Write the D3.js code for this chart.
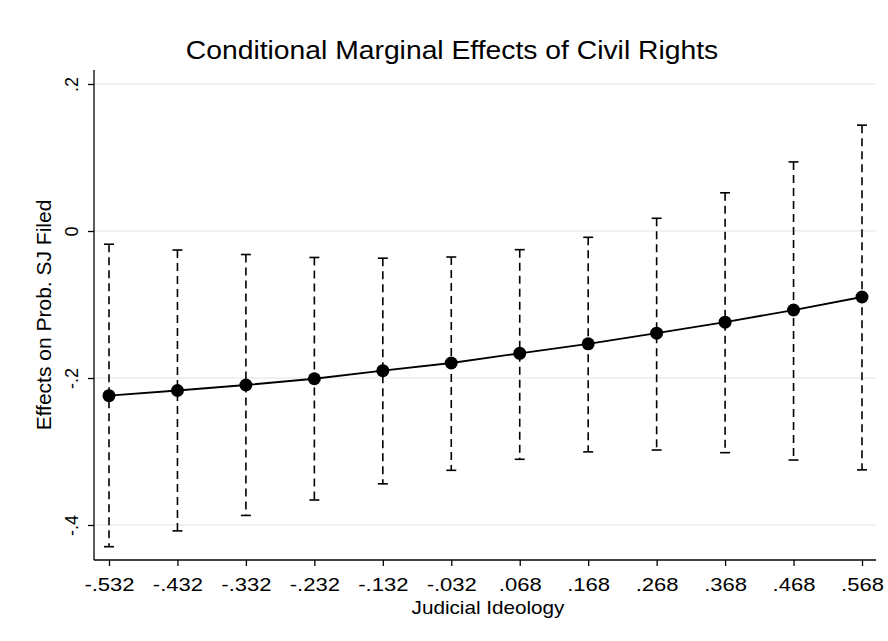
<!DOCTYPE html>
<html>
<head>
<meta charset="utf-8">
<script src="https://cdn.jsdelivr.net/npm/d3@7"></script>
<style>
  body { margin: 0; background: #fff; }
  text { font-family: "Liberation Sans", Arial, Helvetica, sans-serif; fill: #000; }
</style>
</head>
<body>
<svg id="chart" width="888" height="641"></svg>
<script>
const xValues = [-0.532, -0.432, -0.332, -0.232, -0.132, -0.032, 0.068, 0.168, 0.268, 0.368, 0.468, 0.568];
const xTickLabels = ["-.532", "-.432", "-.332", "-.232", "-.132", "-.032", ".068", ".168", ".268", ".368", ".468", ".568"];
const effects = [-0.224, -0.217, -0.2095, -0.201, -0.190, -0.1796, -0.1664, -0.1535, -0.139, -0.124, -0.1075, -0.0898];
const upperCI = [-0.018, -0.0259, -0.032, -0.036, -0.037, -0.0354, -0.0254, -0.0086, 0.0173, 0.052, 0.094, 0.144];
const lowerCI = [-0.4295, -0.408, -0.387, -0.366, -0.344, -0.3256, -0.3106, -0.3005, -0.298, -0.3016, -0.3116, -0.325];
const yTicks = [0.2, 0, -0.2, -0.4];
const yTickLabels = [".2", "0", "-.2", "-.4"];

const svg = d3.select("#chart");
const plotLeft = 94, plotRight = 876, plotTop = 70, plotBottom = 560;

const x = d3.scaleLinear().domain([-0.532, 0.568]).range([109, 862]);
const y = d3.scaleLinear().domain([0.2, -0.4]).range([84, 525]);

// gridlines
svg.append("g").selectAll("line").data(yTicks).join("line")
  .attr("x1", plotLeft).attr("x2", plotRight)
  .attr("y1", d => y(d)).attr("y2", d => y(d))
  .attr("stroke", "#e8eef3").attr("stroke-width", 1.5);

// axes
const xAxis = d3.axisBottom(x).tickValues(xValues)
  .tickFormat((d, i) => xTickLabels[i]).tickSize(6).tickSizeOuter(0);
const gx = svg.append("g").attr("transform", `translate(0,${plotBottom})`).call(xAxis);
gx.select(".domain").attr("d", `M${plotLeft},0H${plotRight}`).attr("stroke", "#000").attr("stroke-width", 1.3);
gx.selectAll(".tick line").attr("stroke", "#000").attr("stroke-width", 1.3);
gx.selectAll(".tick text").attr("font-size", 19).attr("dy", 0).attr("y", 0)
  .attr("transform", "translate(0,31) scale(1.16,1)")
  .attr("font-family", "Liberation Sans, Arial, sans-serif").attr("fill", "#000");

const yAxis = d3.axisLeft(y).tickValues(yTicks)
  .tickFormat((d, i) => yTickLabels[i]).tickSize(6).tickSizeOuter(0);
const gy = svg.append("g").attr("transform", `translate(${plotLeft},0)`).call(yAxis);
gy.select(".domain").attr("d", `M0,${plotTop}V${plotBottom}`).attr("stroke", "#000").attr("stroke-width", 1.3);
gy.selectAll(".tick line").attr("stroke", "#000").attr("stroke-width", 1.3);
gy.selectAll(".tick text")
  .attr("font-size", 18).attr("font-family", "Liberation Sans, Arial, sans-serif").attr("fill", "#000")
  .attr("x", null).attr("dy", null)
  .attr("text-anchor", "middle")
  .attr("transform", "translate(-16.5,0) rotate(-90)")
  .attr("y", 0);

// error bars
const data = xValues.map((v, i) => ({ x: v, e: effects[i], lo: lowerCI[i], hi: upperCI[i] }));
const eb = svg.append("g");
eb.selectAll("line.ci").data(data).join("line").attr("class", "ci")
  .attr("x1", d => x(d.x)).attr("x2", d => x(d.x))
  .attr("y1", d => y(d.hi)).attr("y2", d => y(d.lo))
  .attr("stroke", "#000").attr("stroke-width", 1.6).attr("stroke-dasharray", "8,5");
eb.selectAll("line.capHi").data(data).join("line").attr("class", "capHi")
  .attr("x1", d => x(d.x) - 5).attr("x2", d => x(d.x) + 5)
  .attr("y1", d => y(d.hi)).attr("y2", d => y(d.hi))
  .attr("stroke", "#000").attr("stroke-width", 1.6);
eb.selectAll("line.capLo").data(data).join("line").attr("class", "capLo")
  .attr("x1", d => x(d.x) - 5).attr("x2", d => x(d.x) + 5)
  .attr("y1", d => y(d.lo)).attr("y2", d => y(d.lo))
  .attr("stroke", "#000").attr("stroke-width", 1.6);

// line
svg.append("path").datum(data)
  .attr("d", d3.line().x(d => x(d.x)).y(d => y(d.e)))
  .attr("fill", "none").attr("stroke", "#000").attr("stroke-width", 1.8);

svg.append("g").selectAll("circle").data(data).join("circle")
  .attr("cx", d => x(d.x)).attr("cy", d => y(d.e)).attr("r", 6.5).attr("fill", "#000");

// titles
svg.append("text").attr("transform", "translate(452,59) scale(1.11,1)").attr("text-anchor", "middle")
  .attr("font-size", 25.5).text("Conditional Marginal Effects of Civil Rights");
svg.append("text").attr("transform", "translate(488,614) scale(1.15,1)").attr("text-anchor", "middle")
  .attr("font-size", 18).text("Judicial Ideology");
svg.append("text").attr("transform", "translate(51,315) rotate(-90)").attr("text-anchor", "middle")
  .attr("font-size", 21).text("Effects on Prob. SJ Filed");
</script>
</body>
</html>
